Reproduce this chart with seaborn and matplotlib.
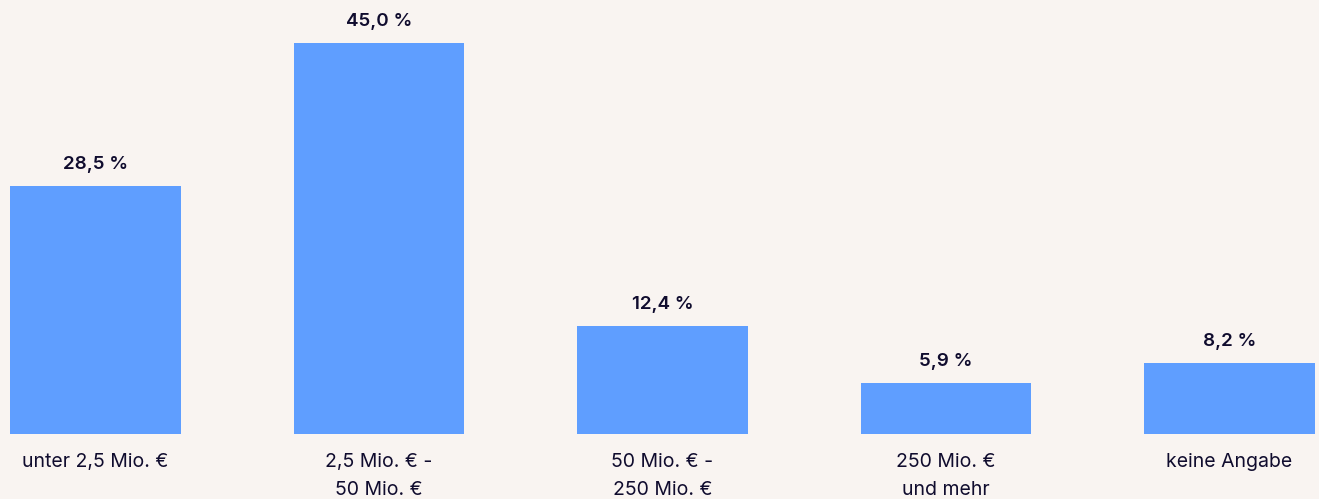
import matplotlib
matplotlib.use("Agg")
import matplotlib.pyplot as plt
import seaborn as sns
import pandas as pd

categories = ["unter 2,5 Mio. €", "2,5 Mio. € -\n50 Mio. €", "50 Mio. € -\n250 Mio. €",
              "250 Mio. €\nund mehr", "keine Angabe"]
values = [28.5, 45.0, 12.4, 5.9, 8.2]
value_labels = ["28,5 %", "45,0 %", "12,4 %", "5,9 %", "8,2 %"]

bg = "#f9f4f1"
bar_color = "#5f9eff"
text_color = "#100c2e"

sns.set_theme(style="white")
plt.rcParams['font.family'] = ['Inter', 'DejaVu Sans']

df = pd.DataFrame({"cat": categories, "val": values})

W, H = 1319, 499
fig = plt.figure(figsize=(W / 100, H / 100), dpi=100, facecolor=bg)
ax = fig.add_axes([0, (H - 434) / H, 1, 434 / H])
ax.set_facecolor(bg)

sns.barplot(data=df, x="cat", y="val", color=bar_color, width=0.603, saturation=1,
            linewidth=0, edgecolor="none", ax=ax)

spacing = 283.5
c0 = 95.5
ax.set_xlim(-c0 / spacing, (W - c0) / spacing)
ax.set_ylim(0, 434 / 8.69)

for i, (v, lab) in enumerate(zip(values, value_labels)):
    ax.annotate(lab, (i, v), xytext=(0, 9.5), textcoords="offset points", ha="center", va="bottom",
                fontsize=13.5, fontweight="semibold", color=text_color)

ax.set_xlabel("")
ax.set_ylabel("")
ax.set_yticks([])
ax.tick_params(axis="x", length=0, pad=13.5, labelsize=14, labelcolor=text_color)
for lbl in ax.get_xticklabels():
    lbl.set_linespacing(1.7)
    lbl.set_verticalalignment("top")
for s in ax.spines.values():
    s.set_visible(False)

fig.savefig("out.png", dpi=100, facecolor=bg)
